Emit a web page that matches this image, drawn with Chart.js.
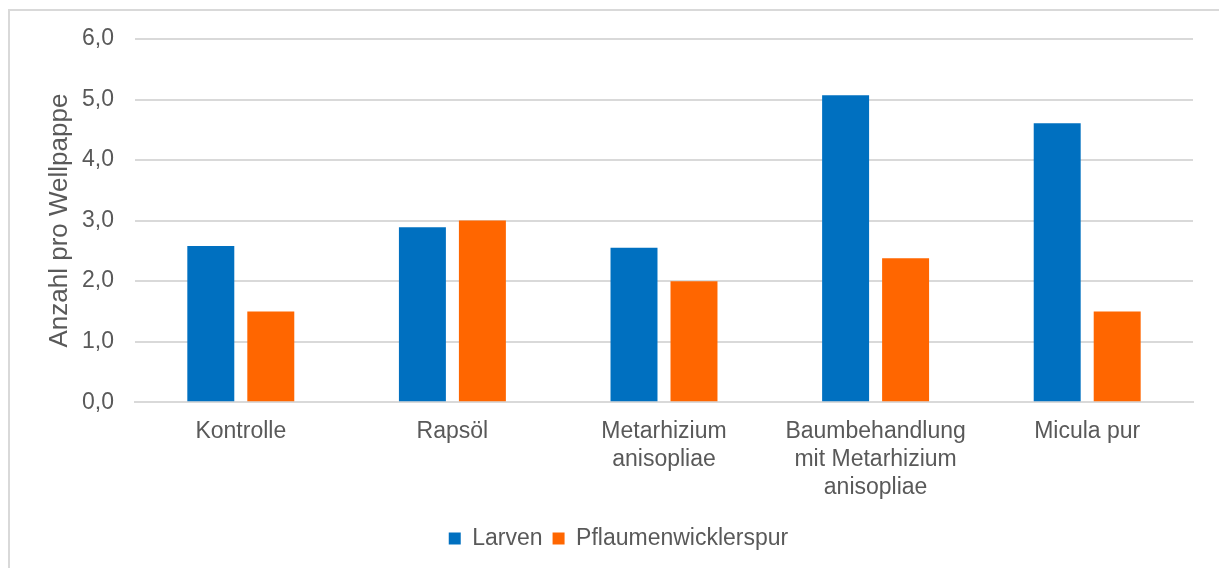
<!DOCTYPE html>
<html>
<head>
<meta charset="utf-8">
<script src="https://cdn.jsdelivr.net/npm/chart.js@4"></script>
<style>
  body { margin: 0; background: #fff; }
  #wrap {
    position: absolute; left: 8px; top: 9px;
    width: 1211px; height: 559px;
    border-left: 2px solid #d9d9d9; border-top: 2px solid #d9d9d9;
    box-sizing: border-box;
  }
</style>
</head>
<body>
<div id="wrap"><canvas id="barChart"></canvas></div>
<script>
var categories = [
    'Kontrolle',
    'Rapsöl',
    ['Metarhizium', 'anisopliae'],
    ['Baumbehandlung', 'mit Metarhizium', 'anisopliae'],
    'Micula pur'
];
var larven = [2.58, 2.89, 2.55, 5.07, 4.61];
var spur = [1.5, 3.0, 2.0, 2.38, 1.5];

var textColor = '#595959';
var font = 'Liberation Sans, Arial, sans-serif';

var ctx = document.getElementById('barChart').getContext('2d');
var barChart = new Chart(ctx, {
    type: 'bar',
    data: {
        labels: categories,
        datasets: [{
            label: 'Larven',
            data: larven,
            backgroundColor: '#0070C0'
        }, {
            label: 'Pflaumenwicklerspur',
            data: spur,
            backgroundColor: '#FF6600'
        }]
    },
    options: {
        responsive: true,
        maintainAspectRatio: false,
        animation: false,
        datasets: {
            bar: { categoryPercentage: 0.567, barPercentage: 0.783 }
        },
        layout: { padding: { top: 28, right: 26, bottom: 8, left: 34 } },
        scales: {
            x: {
                grid: { display: false, drawTicks: false },
                border: { color: '#d9d9d9', width: 2 },
                ticks: {
                    color: textColor,
                    font: { family: font, size: 23, lineHeight: 1.2 },
                    maxRotation: 0,
                    autoSkip: false,
                    padding: 16
                }
            },
            y: {
                min: 0,
                max: 6,
                afterFit: function(scale) {
                    scale.width = 91;
                    scale.paddingTop = 0; // top comes from layout padding
                },
                grid: { color: '#d9d9d9', lineWidth: 2, drawTicks: false },
                border: { display: false },
                ticks: {
                    stepSize: 1,
                    color: textColor,
                    font: { family: font, size: 23 },
                    padding: 21,
                    callback: function(v) { return v.toFixed(1).replace('.', ','); }
                },
                title: {
                    display: true,
                    text: 'Anzahl pro Wellpappe',
                    color: textColor,
                    font: { family: font, size: 26 },
                    padding: { top: 0, bottom: 0 }
                }
            }
        },
        plugins: {
            legend: {
                position: 'bottom',
                labels: {
                    color: textColor,
                    font: { family: font, size: 23 },
                    boxWidth: 12,
                    boxHeight: 12,
                    padding: 10
                }
            },
            tooltip: { enabled: false }
        }
    }
});
</script>
</body>
</html>
